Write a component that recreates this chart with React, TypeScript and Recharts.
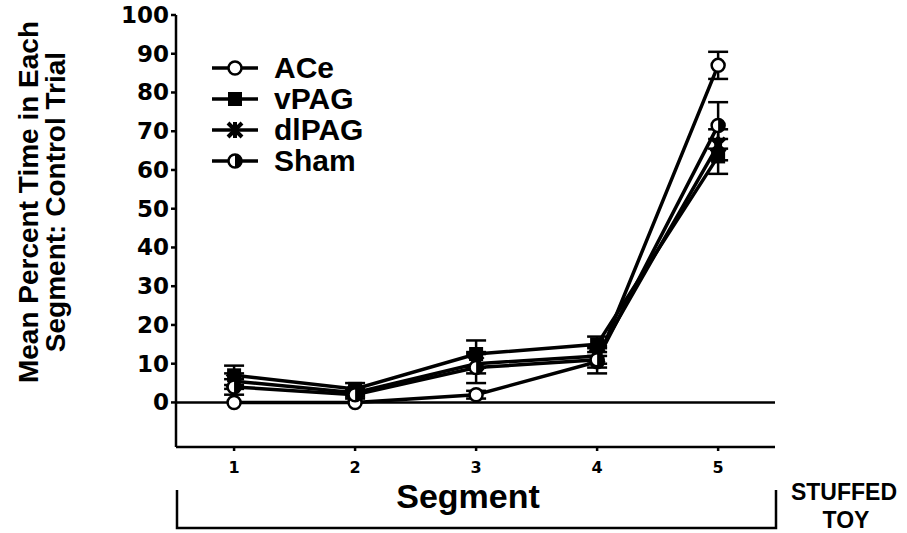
import { ErrorBar, Line, LineChart, ReferenceLine, XAxis, YAxis } from "recharts";

const segments = [1, 2, 3, 4, 5];
const ace = [0, 0, 2, 10.5, 87];
const aceErr = [0, 0, 1, 1.5, 3.5];
const vpag = [7, 3.5, 12.5, 15, 63.5];
const vpagErr = [2.5, 1.5, 3.5, 2, 4.5];
const dlpag = [5.5, 2.5, 10, 12, 66.5];
const dlpagErr = [2, 1, 2.5, 2, 4];
const sham = [4, 2, 9, 11, 71.5];
const shamErr = [2, 1, 4, 3.5, 6];
const yTicks = [0, 10, 20, 30, 40, 50, 60, 70, 80, 90, 100];

const data = segments.map((s, i) => ({
	segment: s,
	ace: ace[i],
	aceErr: aceErr[i],
	vpag: vpag[i],
	vpagErr: vpagErr[i],
	dlpag: dlpag[i],
	dlpagErr: dlpagErr[i],
	sham: sham[i],
	shamErr: shamErr[i],
}));

const TICK_FONT = "'DejaVu Sans', sans-serif";
const FONT = "'Liberation Sans', Arial, sans-serif";

function Marker({ kind, cx, cy }: { kind: string; cx: number; cy: number }) {
	if (kind === "ace") {
		return <circle cx={cx} cy={cy} r={6.5} fill="#fff" stroke="#000" strokeWidth={2.5} />;
	}
	if (kind === "vpag") {
		return <rect x={cx - 7} y={cy - 7} width={14} height={14} fill="#000" />;
	}
	if (kind === "dlpag") {
		return (
			<g>
				<path
					d={`M${cx - 7},${cy - 7} L${cx + 7},${cy + 7} M${cx + 7},${cy - 7} L${cx - 7},${cy + 7} M${cx},${cy - 8} L${cx},${cy + 8}`}
					stroke="#000"
					strokeWidth={4}
				/>
				<circle cx={cx} cy={cy} r={4} fill="#000" />
			</g>
		);
	}
	return (
		<g>
			<circle cx={cx} cy={cy} r={6.5} fill="#fff" stroke="#000" strokeWidth={2.5} />
			<path d={`M${cx},${cy - 6.5} A6.5,6.5 0 0 1 ${cx},${cy + 6.5} Z`} fill="#000" />
		</g>
	);
}

const dotFor = (kind: string) => (props: any) => (
	<Marker key={`${kind}-${props.index}`} kind={kind} cx={props.cx} cy={props.cy} />
);

const legendItems = [
	{ kind: "ace", label: "ACe" },
	{ kind: "vpag", label: "vPAG" },
	{ kind: "dlpag", label: "dlPAG" },
	{ kind: "sham", label: "Sham" },
];

function YTick(props: any) {
	const { x, y, payload } = props;
	return (
		<text x={x} y={y} dy={8} textAnchor="end" fontFamily={TICK_FONT} fontWeight="bold" fontSize={23} fill="#000">
			{payload.value}
		</text>
	);
}

function XTick(props: any) {
	const { x, y, payload } = props;
	return (
		<text x={x} y={y} dy={20} textAnchor="middle" fontFamily={TICK_FONT} fontWeight="bold" fontSize={16} fill="#000">
			{payload.value}
		</text>
	);
}

export default function App() {
	return (
		<div style={{ position: "fixed", left: 0, top: 0, width: 907, height: 533, background: "#fff" }}>
			<LineChart
				width={907}
				height={533}
				data={data}
				margin={{ top: 15, right: 132, bottom: 56, left: 126 }}
			>
				<XAxis
					dataKey="segment"
					type="number"
					domain={[0.52, 5.47]}
					ticks={segments}
					height={30}
					stroke="#000"
					strokeWidth={2.5}
					tickSize={4}
					tick={<XTick />}
					label={{
						content: () => (
							<g fontFamily={FONT} fontWeight="bold" fill="#000">
								<text x={468} y={508} textAnchor="middle" fontSize={34}>
									Segment
								</text>
								<path d="M177,490 L177,528 L776,528 L776,490" stroke="#000" strokeWidth={2.5} fill="none" />
								<text x={844} y={500} textAnchor="middle" fontSize={23}>
									STUFFED
								</text>
								<text x={846} y={528} textAnchor="middle" fontSize={23}>
									TOY
								</text>
							</g>
						),
					}}
				/>
				<YAxis
					type="number"
					domain={[-11.5, 100]}
					ticks={yTicks}
					width={50}
					stroke="#000"
					strokeWidth={2.5}
					tickSize={5}
					tick={<YTick />}
					label={{
						content: () => (
							<g fontFamily={FONT} fontWeight="bold" fill="#000">
								<text transform="translate(38,202) rotate(-90)" textAnchor="middle" fontSize={28}>
									Mean Percent Time in Each
								</text>
								<text transform="translate(65,202) rotate(-90)" textAnchor="middle" fontSize={28}>
									Segment: Control Trial
								</text>
							</g>
						),
					}}
				/>
				<ReferenceLine
					y={0}
					stroke="#000"
					strokeWidth={2.5}
					label={{
						content: () => (
							<g fontFamily={FONT} fontWeight="bold" fill="#000">
								{legendItems.map((it, i) => {
									const cy = 68 + i * 31;
									return (
										<g key={it.kind}>
											<line x1={212} x2={258} y1={cy} y2={cy} stroke="#000" strokeWidth={3.5} />
											<Marker kind={it.kind} cx={235} cy={cy} />
											<text x={274} y={cy + 10} fontSize={30}>
												{it.label}
											</text>
										</g>
									);
								})}
							</g>
						),
					}}
				/>
				<Line dataKey="ace" stroke="#000" strokeWidth={3.5} dot={dotFor("ace")} isAnimationActive={false}>
					<ErrorBar dataKey="aceErr" width={10} stroke="#000" strokeWidth={2.5} />
				</Line>
				<Line dataKey="vpag" stroke="#000" strokeWidth={3.5} dot={dotFor("vpag")} isAnimationActive={false}>
					<ErrorBar dataKey="vpagErr" width={10} stroke="#000" strokeWidth={2.5} />
				</Line>
				<Line dataKey="dlpag" stroke="#000" strokeWidth={3.5} dot={dotFor("dlpag")} isAnimationActive={false}>
					<ErrorBar dataKey="dlpagErr" width={10} stroke="#000" strokeWidth={2.5} />
				</Line>
				<Line dataKey="sham" stroke="#000" strokeWidth={3.5} dot={dotFor("sham")} isAnimationActive={false}>
					<ErrorBar dataKey="shamErr" width={10} stroke="#000" strokeWidth={2.5} />
				</Line>
			</LineChart>
		</div>
	);
}
